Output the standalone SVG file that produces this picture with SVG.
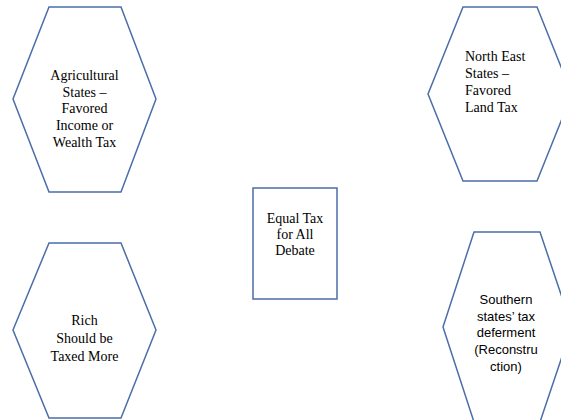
<svg xmlns="http://www.w3.org/2000/svg" width="561" height="420" viewBox="0 0 561 420">
<style>
.shape{fill:#ffffff;stroke:#4a6ea8;stroke-width:1.5}
.serif{font-family:"Liberation Serif","Times New Roman",serif;font-size:14px;fill:#000}
.sans{font-family:"Liberation Sans",Arial,sans-serif;font-size:13px;fill:#000}
.mid{text-anchor:middle}
</style>
<rect width="561" height="420" fill="#ffffff"/>
<g id="connectors"></g>
<g id="agricultural">
<polygon class="shape" points="49,7 121,7 156,99 121,192 49,192 13,99"/>
<text class="serif mid" x="84.5" y="80">Agricultural</text>
<text class="serif mid" x="84.5" y="96.7">States –</text>
<text class="serif mid" x="84.5" y="113.4">Favored</text>
<text class="serif mid" x="84.5" y="130">Income or</text>
<text class="serif mid" x="84.5" y="147">Wealth Tax</text>
</g>
<g id="northeast">
<polygon class="shape" points="463,7 537,7 572,94 537,181 463,181 428,94"/>
<text class="serif" x="465" y="60.7">North East</text>
<text class="serif" x="465" y="78">States –</text>
<text class="serif" x="465" y="95">Favored</text>
<text class="serif" x="465" y="112">Land Tax</text>
</g>
<g id="equal">
<rect class="shape" x="253" y="188" width="84" height="111"/>
<text class="serif mid" x="295" y="223">Equal Tax</text>
<text class="serif mid" x="295" y="239">for All</text>
<text class="serif mid" x="295" y="255">Debate</text>
</g>
<g id="rich">
<polygon class="shape" points="49,243 121,243 156,330 121,418 49,418 13,330"/>
<text class="serif mid" x="84.5" y="325">Rich</text>
<text class="serif mid" x="84.5" y="343">Should be</text>
<text class="serif mid" x="84.5" y="361">Taxed More</text>
</g>
<g id="southern">
<polygon class="shape" points="474,232 540,232 572,327 540,422 474,422 443,327"/>
<text class="sans mid" x="506" y="304">Southern</text>
<text class="sans mid" x="506" y="321">states’ tax</text>
<text class="sans mid" x="506" y="337">deferment</text>
<text class="sans mid" x="506" y="354">(Reconstru</text>
<text class="sans mid" x="506" y="371">ction)</text>
</g>
</svg>
